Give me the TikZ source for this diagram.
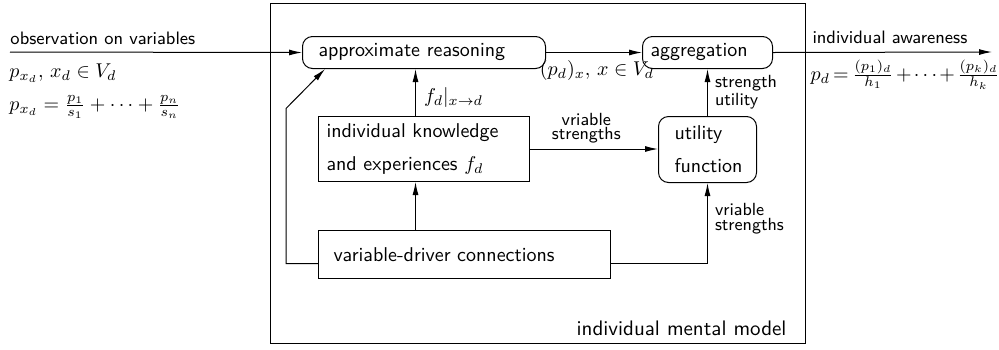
\documentclass[tikz,border=0pt]{standalone}
\usepackage{amsmath, amssymb}
\usepackage{tikz}
\usetikzlibrary{arrows.meta}

\begin{document}
\begin{tikzpicture}[x=0.5pt, y=-0.5pt, line width=0.5pt,
        every node/.style={font=\sffamily},
        rbox/.style={draw, rounded corners=5pt, align=left, anchor=north west},
        sbox/.style={draw, align=left, anchor=north west},
        link/.style={-{Latex[length=6.5pt,width=3pt]}},
        note/.style={font=\sffamily\fontsize{8.8}{7.4}\selectfont, align=left, inner sep=1pt},
        tag/.style={font=\sffamily\small, anchor=base west, inner sep=0pt}]
    \useasboundingbox (0,0) rectangle (999,349);
    %mental model frame
    \node[draw, anchor=north west, inner sep=0pt, minimum width=267.5pt, minimum height=170pt] (model) at (270,3) {};
    \node[anchor=base east, inner sep=0pt, font=\sffamily\fontsize{10.5}{12}\selectfont] (modellbl) at (787,335) {individual mental model};
    %
    %boxes
    \node[rbox, minimum width=121.5pt, minimum height=16pt, inner xsep=8pt, text width=105.5pt] (reason) at (302,36) {approximate reasoning};
    \node[rbox, minimum width=65pt, minimum height=16pt, inner xsep=4pt, text width=57pt] (aggr) at (642,36) {aggregation};
    \node[sbox, minimum height=32.5pt, inner xsep=4pt, text width=97.5pt] (know) at (318,116) {individual knowledge\\[4.5pt]and experiences $f_d$};
    \node[rbox, minimum height=33pt, inner xsep=8pt, text width=33pt] (util) at (658,116) {utility\\[4.5pt]function};
    \node[sbox, minimum height=24pt, inner xsep=7.5pt, text width=131pt] (conn) at (318,230) {variable-driver connections};
    %
    %input
    \coordinate (obs) at (10,52);
    \draw[link] (obs) -- (reason.west);
    \node[tag] (obslbl) at (10,44) {observation on variables};
    \node[tag, font=\normalsize] (obsset) at (9,77) {$p_{x_d},\, x_d\in V_d$};
    \node[tag, font=\normalsize] (obssum) at (9,110) {$p_{x_d}=\frac{p_1}{s_1}+\cdots+\frac{p_n}{s_n}$};
    %
    %output
    \coordinate (aware) at (992,52);
    \draw[link] (reason.east) -- (aggr.west) node[pos=0.53, below, inner sep=3.5pt] {$(p_d)_x,\, x\in V_d$};
    \draw[link] (aggr.east) -- (aware);
    \node[tag] (awarelbl) at (812,43) {individual awareness};
    \node[tag, font=\normalsize] (awaresum) at (810,80) {\medmuskip=2mu\thickmuskip=3mu$p_d=\frac{(p_1)_d}{h_1}+\cdots+\frac{(p_k)_d}{h_k}$};
    %
    %inner connections
    \draw[link] ([xshift=-4.25pt]know.north) -- ([xshift=-4.25pt]know.north |- reason.south) node[pos=0.4, right, inner sep=4pt] {$f_d|_{x\to d}$};
    \draw[link] ([xshift=-4.25pt]know.south |- conn.north) -- ([xshift=-4.25pt]know.south);
    \draw[link] (know.east) -- (know.east -| util.west) node[note, pos=0.44, above, align=center, inner sep=2.5pt] {vriable\\strengths};
    \draw[link] ([yshift=-4.5pt]conn.east) -| (util.south) node[note, pos=0.78, right, inner xsep=3.5pt] {vriable\\strengths};
    \draw[link] (util.north) -- (util.north |- aggr.south) node[note, midway, right, inner xsep=3.5pt] {strength\\utility};
    \draw[link] ([yshift=-4.5pt]conn.west) -- ++(-32,0) -- ++(0,-155) -- ([xshift=11.5pt]reason.south west);
\end{tikzpicture}
\end{document}
